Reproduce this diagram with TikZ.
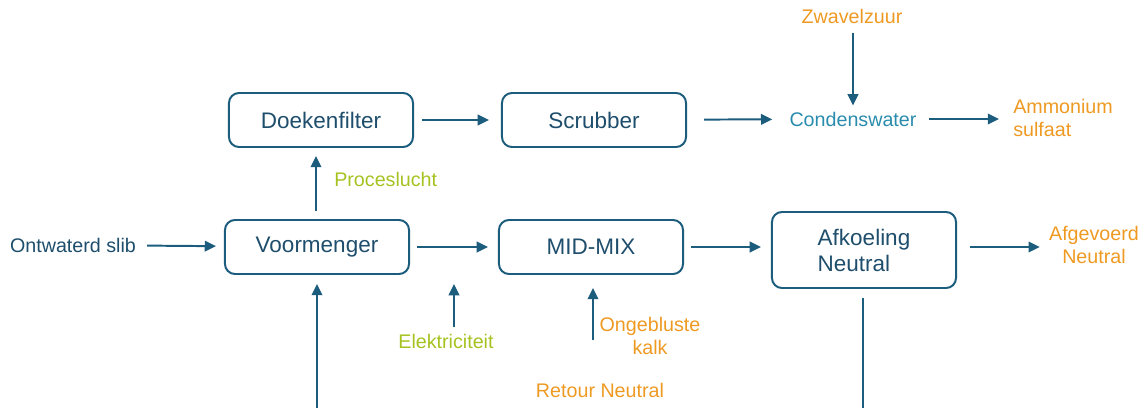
\documentclass[tikz,border=0pt]{standalone}
\usepackage{fontspec}
\setmainfont{Liberation Sans}
\usetikzlibrary{arrows.meta}
\definecolor{boxblue}{RGB}{28,92,124}
\definecolor{textblue}{RGB}{30,78,108}
\definecolor{waterblue}{RGB}{42,140,173}
\definecolor{feedorange}{RGB}{238,154,34}
\definecolor{feedgreen}{RGB}{166,194,32}
\tikzset{
    flowchart/.style={
        x=0.025cm, y=-0.025cm,
        >={Triangle[length=8pt,width=7.5pt]},
        line join=miter,
    },
    procbox/.style={
        draw=boxblue, line width=1.4pt, rounded corners=0.25cm,
        minimum width=4.6cm, minimum height=1.35cm,
        text=textblue, font=\fontsize{16}{18.5}\selectfont, align=left,
    },
    flowlabel/.style={inner sep=0pt, font=\fontsize{14}{17}\selectfont, align=center},
    flow/.style={->, draw=boxblue, line width=1.4pt, shorten <=0.2cm, shorten >=0.25cm},
}
\begin{document}
\begin{tikzpicture}
            [flowchart]
            \useasboundingbox (0,0) rectangle (1146,408);
            % process blocks
            \node[procbox] (voor) at (317,247) {Voormenger};
            \node[procbox] (doek) at (321,120) {Doekenfilter};
            \node[procbox] (scrub) at (594,120) {Scrubber};
            \node[procbox] (mix) at (591,247) {MID-MIX};
            \node[procbox, minimum height=1.9cm] (afk) at (864,250) {Afkoeling\\Neutral};
            % streams
            \node[flowlabel, text=textblue] (slib) at (73,245) {Ontwaterd slib};
            \node[flowlabel, text=feedgreen, anchor=west] (lucht) at (334,179) {Proceslucht};
            \node[flowlabel, text=feedorange] (zwavel) at (852,16) {Zwavelzuur};
            \node[flowlabel, text=waterblue] (conden) at (853,119) {Condenswater};
            \node[flowlabel, text=feedorange, anchor=west, align=left] (ammon) at (1013,118) {Ammonium\\sulfaat};
            \node[flowlabel, text=feedorange] (afgev) at (1094,245) {Afgevoerd\\Neutral};
            \node[flowlabel, text=feedgreen] (elek) at (446,341) {Elektriciteit};
            \node[flowlabel, text=feedorange] (kalk) at (650,336) {Ongebluste\\kalk};
            \node[flowlabel, text=feedorange] (retour) at (600,390) {Retour Neutral};
            \coordinate (elekin) at (454,284);
            \coordinate (kalkin) at (593,340);
            \coordinate (retourline) at (600,408.7);
            % connectors
            \draw[flow, shorten <=0.275cm, shorten >=0.2cm] (slib) -- (voor);
            \draw[flow, shorten >=0.3cm] (doek) -- (scrub);
            \draw[flow, shorten <=0.425cm, shorten >=0.425cm] (scrub) -- (conden);
            \draw[flow, shorten <=0.3cm, shorten >=0.35cm] (conden) -- (ammon.west |- conden);
            \draw[flow, shorten <=0.225cm, shorten >=0.15cm] (zwavel.south -| conden) -- (conden.north);
            \draw[flow, shorten >=0.2cm] ([xshift=-0.025cm]voor.north) -- ([xshift=-0.025cm]voor.north |- doek.south);
            \draw[flow, shorten <=0.175cm] (voor) -- (mix);
            \draw[flow, shorten <=0.175cm] (mix) -- (afk.west |- mix);
            \draw[flow, shorten <=0.325cm, shorten >=0.225cm] (afk.east |- mix) -- (afgev.west |- mix);
            \draw[flow, shorten <=0.15cm, shorten >=0cm] (elek.north -| elekin) -- (elekin);
            \draw[flow, shorten <=0cm, shorten >=0.325cm] (kalkin) -- (kalkin |- mix.south);
            \draw[flow, shorten <=0.225cm, shorten >=0.225cm] ([xshift=-0.025cm]afk.south) |- (retourline) -| (voor.south);
        \end{tikzpicture}
\end{document}
